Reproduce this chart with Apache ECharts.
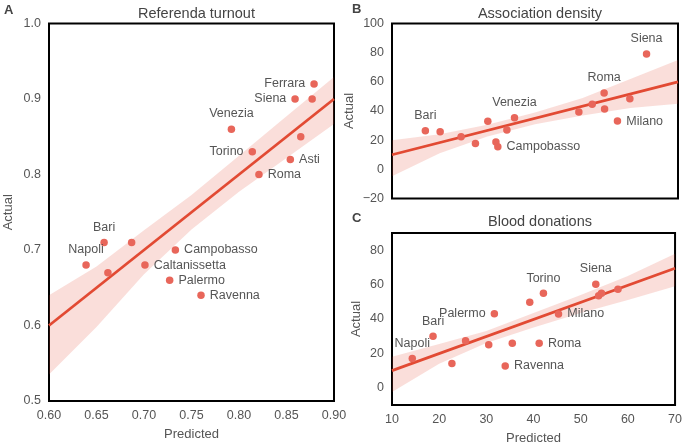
<!DOCTYPE html>
<html>
<head>
<meta charset="utf-8">
<script src="https://cdn.jsdelivr.net/npm/echarts@6/dist/echarts.min.js"></script>
<style>
  html, body { margin: 0; padding: 0; background: #fff; }
  #chart { width: 685px; height: 446px; }
</style>
</head>
<body>
<div id="chart"></div>
<script>
// Panel A: referenda turnout
const namesA = ['Ferrara', 'Siena', '', 'Venezia', '', 'Torino', 'Asti', 'Roma', 'Bari', '', 'Napoli', '', 'Caltanissetta', 'Campobasso', 'Palermo', 'Ravenna']
const predA = [0.879, 0.859, 0.877, 0.792, 0.865, 0.814, 0.854, 0.821, 0.658, 0.687, 0.639, 0.662, 0.701, 0.733, 0.727, 0.760]
const actA = [0.92, 0.90, 0.90, 0.86, 0.85, 0.83, 0.82, 0.80, 0.71, 0.71, 0.68, 0.67, 0.68, 0.70, 0.66, 0.64]
const fitA = [[0.60, 0.60], [0.90, 0.90]]
const bandXA = [0.60, 0.65, 0.70, 0.75, 0.80, 0.85, 0.90]
const bandLoA = [0.535, 0.598, 0.668, 0.727, 0.777, 0.822, 0.867]
const bandHiA = [0.640, 0.678, 0.726, 0.773, 0.825, 0.877, 0.929]

// Panel B: association density
const namesB = ['Siena', 'Roma', '', '', 'Milano', '', '', 'Venezia', '', '', '', 'Campobasso', '', '', 'Bari', '']
const predB = [63.4, 54.5, 59.9, 54.6, 57.3, 52.0, 49.2, 35.7, 30.1, 34.1, 31.8, 32.2, 27.5, 24.5, 17.0, 20.1]
const actB = [79.1, 52.3, 48.4, 41.4, 33.1, 44.6, 39.3, 35.4, 32.9, 27.0, 18.7, 15.5, 17.8, 22.4, 26.5, 25.8]
const fitB = [[10, 10], [70, 60]]
const bandXB = [10, 20, 30, 40, 50, 60, 70]
const bandLoB = [-4.7, 11, 22.5, 31, 37, 42, 45]
const bandHiB = [20, 24, 30.5, 39, 49, 62, 75]

// Panel C: blood donations
const namesC = ['Siena', '', '', '', 'Torino', '', 'Milano', 'Palermo', 'Bari', '', '', '', 'Roma', 'Napoli', '', 'Ravenna']
const predC = [53.2, 53.8, 54.4, 57.9, 42.1, 39.2, 45.3, 31.7, 18.7, 25.6, 30.5, 35.5, 41.2, 14.3, 22.7, 34.0]
const actC = [60.2, 53.5, 55.0, 57.3, 54.9, 49.7, 42.9, 43.0, 29.9, 27.4, 25.1, 25.9, 25.9, 17.0, 14.1, 12.7]
const fitC = [[10, 10], [70, 69.5]]
const bandXC = [10, 20, 30, 40, 50, 60, 70]
const bandLoC = [-2.5, 14, 26, 35, 43.5, 51, 59]
const bandHiC = [18, 25.5, 33, 43.5, 54, 65, 78]

// where each city label sits relative to its dot
const labelSide = {
	A: { Ferrara: 'left', Siena: 'left', Venezia: 'top', Torino: 'left', Asti: 'right', Roma: 'right', Bari: 'top', Napoli: 'top', Caltanissetta: 'right', Campobasso: 'right', Palermo: 'right', Ravenna: 'right' },
	B: { Siena: 'top', Roma: 'top', Milano: 'right', Venezia: 'top', Campobasso: 'right', Bari: 'top' },
	C: { Siena: 'top', Torino: 'top', Milano: 'right', Palermo: 'left', Bari: 'top', Napoli: 'top', Roma: 'right', Ravenna: 'right' }
}

const FONT = "'Liberation Sans', Arial, sans-serif"
const TXT = '#555'
const DOT = '#e8665a'
const LINE = '#e24a33'
const BAND = 'rgba(226, 74, 51, 0.18)'

function minus(s) {
	return String(s).replace('-', '\u2212')
}

function scatterSeries(idx, names, xs, ys, sides) {
	return {
		type: 'scatter',
		xAxisIndex: idx,
		yAxisIndex: idx,
		symbolSize: 7.5,
		z: 5,
		itemStyle: { color: DOT, opacity: 1 },
		data: xs.map((x, i) => {
			const name = names[i]
			return {
				value: [x, ys[i]],
				label: {
					show: name !== '',
					formatter: name,
					position: sides[name] || 'right',
					distance: 5,
					color: TXT,
					fontSize: 12.5,
					fontFamily: FONT
				}
			}
		})
	}
}

function fitSeries(idx, pts) {
	return {
		type: 'line',
		xAxisIndex: idx,
		yAxisIndex: idx,
		data: pts,
		showSymbol: false,
		z: 4,
		lineStyle: { color: LINE, width: 2.8 }
	}
}

function bandSeries(idx, xs, lo, hi) {
	return {
		type: 'custom',
		xAxisIndex: idx,
		yAxisIndex: idx,
		z: 2,
		silent: true,
		clip: true,
		data: xs.map((x, i) => [x, lo[i], hi[i]]),
		renderItem(params, api) {
			if (params.dataIndex !== 0) return
			const pts = []
			for (let i = 0; i < xs.length; i++) pts.push(api.coord([xs[i], hi[i]]))
			for (let i = xs.length - 1; i >= 0; i--) pts.push(api.coord([xs[i], lo[i]]))
			return { type: 'polygon', shape: { points: pts }, style: { fill: BAND } }
		}
	}
}

const gridBase = { show: true, borderColor: '#000', borderWidth: 2, backgroundColor: 'transparent' }
const labelBase = { color: TXT, fontSize: 12.5, fontFamily: FONT }
const nameBase = { color: TXT, fontSize: 13, fontFamily: FONT }

function xAxis(idx, min, max, interval, fmt, showLabels, name) {
	return {
		type: 'value', gridIndex: idx, min, max, interval,
		axisLine: { show: false }, axisTick: { show: false }, splitLine: { show: false },
		axisLabel: Object.assign({ show: showLabels, margin: 8, formatter: fmt }, labelBase),
		name, nameLocation: 'middle', nameGap: 27, nameTextStyle: nameBase
	}
}

function yAxis(idx, min, max, interval, fmt, gap) {
	return {
		type: 'value', gridIndex: idx, min, max, interval,
		axisLine: { show: false }, axisTick: { show: false }, splitLine: { show: false },
		axisLabel: Object.assign({ margin: 8, formatter: fmt }, labelBase),
		name: 'Actual', nameLocation: 'middle', nameGap: gap, nameTextStyle: nameBase
	}
}

const chart = echarts.init(document.getElementById('chart'), null, { renderer: 'canvas' })

const titleStyle = { color: '#444', fontSize: 14.5, fontWeight: 'normal', fontFamily: FONT }
const letterStyle = { color: '#444', fontSize: 13, fontWeight: 'bold', fontFamily: FONT }

chart.setOption({
	animation: false,
	title: [
		{ text: 'Referenda turnout', left: 191.5, top: 1, textAlign: 'center', textStyle: titleStyle },
		{ text: 'Association density', left: 535, top: 1, textAlign: 'center', textStyle: titleStyle },
		{ text: 'Blood donations', left: 535, top: 209, textAlign: 'center', textStyle: titleStyle },
		{ text: 'A', left: -1, top: -1, textStyle: letterStyle },
		{ text: 'B', left: 347, top: -2, textStyle: letterStyle },
		{ text: 'C', left: 347, top: 207, textStyle: letterStyle }
	],
	grid: [
		Object.assign({ left: 49, top: 23.5, width: 285, height: 384 }, gridBase),
		Object.assign({ left: 392, top: 23.5, width: 286, height: 175 }, gridBase),
		Object.assign({ left: 392, top: 233, width: 286, height: 175 }, gridBase)
	],
	xAxis: [
		xAxis(0, 0.6, 0.9, 0.05, v => v.toFixed(2), true, 'Predicted'),
		xAxis(1, 10, 70, 10, v => v, false, ''),
		xAxis(2, 10, 70, 10, v => v, true, 'Predicted')
	],
	yAxis: [
		yAxis(0, 0.5, 1.0, 0.1, v => v.toFixed(1), 34),
		yAxis(1, -20, 100, 20, v => minus(v), 36),
		yAxis(2, -10, 90, 10, v => (v % 20 === 0 && v >= 0 && v <= 80 ? String(v) : ''), 29)
	],
	series: [
		bandSeries(0, bandXA, bandLoA, bandHiA),
		fitSeries(0, fitA),
		scatterSeries(0, namesA, predA, actA, labelSide.A),
		bandSeries(1, bandXB, bandLoB, bandHiB),
		fitSeries(1, fitB),
		scatterSeries(1, namesB, predB, actB, labelSide.B),
		bandSeries(2, bandXC, bandLoC, bandHiC),
		fitSeries(2, fitC),
		scatterSeries(2, namesC, predC, actC, labelSide.C)
	]
})
</script>
</body>
</html>
